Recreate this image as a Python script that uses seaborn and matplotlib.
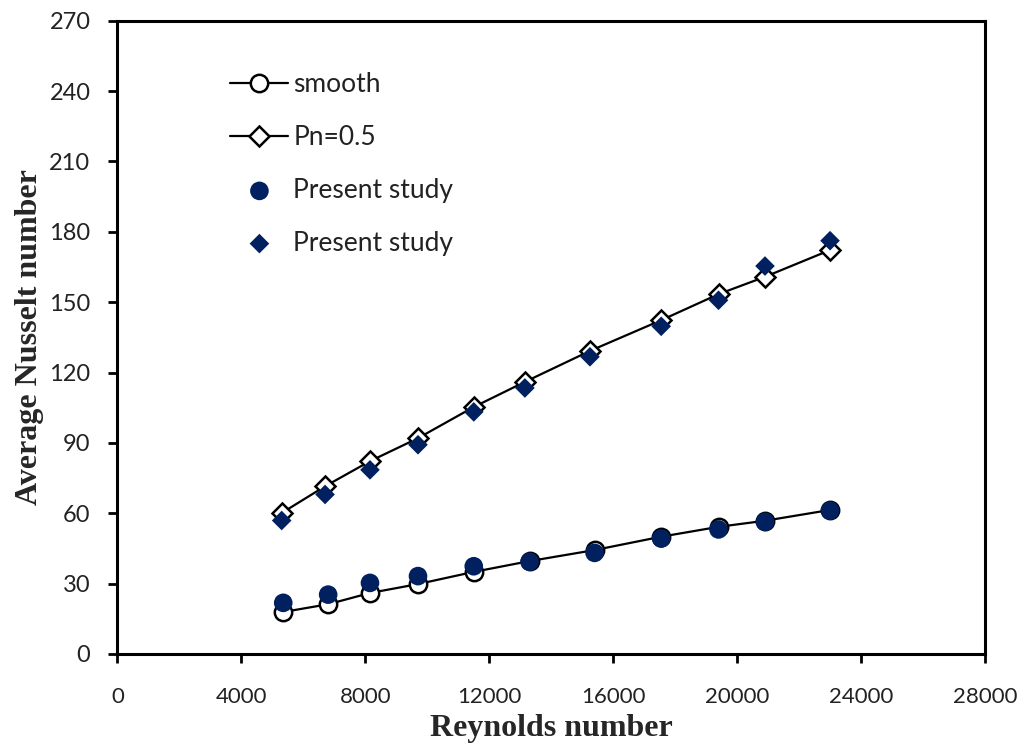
import matplotlib
matplotlib.use("Agg")
import matplotlib.pyplot as plt
import seaborn as sns
import numpy as np

# Data
re_smooth = [5350, 6800, 8150, 9700, 11500, 13300, 15400, 17550, 19400, 20900, 23000]
nu_smooth = [17.9, 21.2, 26.0, 29.8, 35.0, 39.6, 44.3, 50.0, 54.2, 56.8, 61.4]
nu_present_smooth = [21.8, 25.3, 30.3, 33.2, 37.4, 39.3, 43.1, 49.2, 53.1, 56.3, 61.1]

re_pn = [5300, 6700, 8150, 9700, 11500, 13150, 15250, 17550, 19400, 20900, 23000]
nu_pn = [60.1, 71.5, 82.2, 92.0, 105.3, 116.0, 129.2, 142.3, 153.4, 160.8, 172.2]
nu_present_pn = [56.9, 68.0, 78.5, 89.2, 103.2, 113.4, 126.7, 139.7, 150.8, 165.4, 176.2]

x_ticks = [0, 4000, 8000, 12000, 16000, 20000, 24000, 28000]
y_ticks = [0, 30, 60, 90, 120, 150, 180, 210, 240, 270]

sns.set_style("white")
plt.rcParams['font.family'] = ['Lato', 'DejaVu Sans']

navy = "#002060"

fig = plt.figure(figsize=(10.26, 7.44), dpi=100)
ax = fig.add_axes([0.1145, 0.1210, 0.8455, 0.8512])

sns.lineplot(x=re_smooth, y=nu_smooth, ax=ax, color="black", linewidth=1.6,
             marker="o", markersize=12.5, markerfacecolor="white",
             markeredgecolor="black", markeredgewidth=1.8, label="smooth", zorder=2)
sns.lineplot(x=re_pn, y=nu_pn, ax=ax, color="black", linewidth=1.6,
             marker="D", markersize=10.5, markerfacecolor="white",
             markeredgecolor="black", markeredgewidth=1.8, label="Pn=0.5", zorder=2)
sns.scatterplot(x=re_smooth, y=nu_present_smooth, ax=ax, color=navy, marker="o",
                s=180, edgecolor="none", label="Present study", zorder=3)
sns.scatterplot(x=re_pn, y=nu_present_pn, ax=ax, color=navy, marker="D",
                s=100, edgecolor="none", label="Present study", zorder=3)

ax.set_xlim(0, 28000)
ax.set_ylim(0, 270)
ax.set_xticks(x_ticks)
ax.set_yticks(y_ticks)
ax.set_xticklabels([str(t) for t in x_ticks])
ax.set_yticklabels([str(t) for t in y_ticks])

for s in ax.spines.values():
    s.set_visible(True)
    s.set_linewidth(2.2)
    s.set_color("black")

ax.tick_params(axis="both", which="major", direction="out", length=6.5, width=2,
               color="black", labelcolor="#222222")
ax.tick_params(axis="x", bottom=True, top=False, pad=17, labelsize=16)
ax.tick_params(axis="y", left=True, right=False, pad=13, labelsize=17)

ax.set_xlabel("Reynolds number", fontfamily="Liberation Serif", fontweight="bold",
              fontsize=23, labelpad=5)
ax.set_ylabel("Average Nusselt number", fontfamily="Liberation Serif", fontweight="bold",
              fontsize=23, labelpad=4)

leg = ax.legend(loc="upper left", bbox_to_anchor=(0.118, 0.935), frameon=False,
                fontsize=19, handlelength=2.2, handletextpad=0.18, labelspacing=1.05,
                borderaxespad=0.0)
for t in leg.get_texts():
    t.set_color("#222222")

fig.savefig("out.png", dpi=100)
